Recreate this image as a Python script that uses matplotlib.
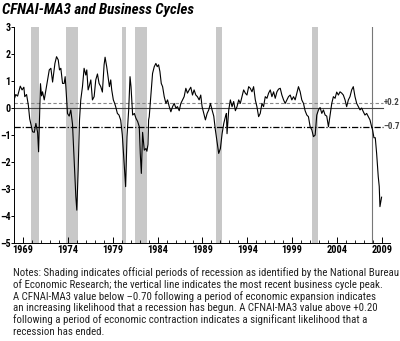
import matplotlib
matplotlib.use("Agg")
import matplotlib.pyplot as plt
from matplotlib.ticker import MultipleLocator

# CFNAI-MA3 (decimal year, index value)
years = [1968.0, 1968.2, 1968.4, 1968.7, 1968.9, 1969.1, 1969.2, 1969.4, 1969.5, 1969.6,
         1969.75, 1970.07, 1970.26, 1970.44, 1970.63, 1970.74, 1970.85, 1970.95, 1971.07, 1971.18,
         1971.37, 1971.56, 1971.74, 1971.93, 1972.11, 1972.3, 1972.41, 1972.56, 1972.74, 1972.93,
         1973.07, 1973.22, 1973.41, 1973.59, 1973.7, 1973.78, 1973.96, 1974.15, 1974.33, 1974.52,
         1974.7, 1974.89, 1975.0, 1975.15, 1975.3, 1975.44, 1975.63, 1975.81, 1976.0, 1976.11,
         1976.26, 1976.37, 1976.56, 1976.74, 1976.93, 1977.11, 1977.3, 1977.48, 1977.67, 1977.85,
         1978.04, 1978.15, 1978.33, 1978.48, 1978.63, 1978.78, 1978.89, 1979.07, 1979.22, 1979.33,
         1979.52, 1979.7, 1979.89, 1980.07, 1980.25, 1980.44, 1980.59, 1980.78, 1980.93, 1981.04,
         1981.22, 1981.41, 1981.59, 1981.78, 1981.96, 1982.07, 1982.19, 1982.33, 1982.52, 1982.7,
         1982.81, 1982.93, 1983.0, 1983.07, 1983.26, 1983.44, 1983.63, 1983.81, 1983.96, 1984.11,
         1984.26, 1984.41, 1984.56, 1984.74, 1984.93, 1985.11, 1985.3, 1985.48, 1985.67, 1985.85,
         1986.04, 1986.22, 1986.41, 1986.59, 1986.78, 1986.96, 1987.15, 1987.33, 1987.52, 1987.7,
         1987.89, 1988.07, 1988.26, 1988.44, 1988.63, 1988.81, 1988.96, 1989.15, 1989.33, 1989.52,
         1989.7, 1989.89, 1990.07, 1990.26, 1990.44, 1990.7, 1990.81, 1991.0, 1991.19, 1991.37,
         1991.56, 1991.67, 1991.74, 1991.93, 1992.11, 1992.3, 1992.48, 1992.67, 1992.85, 1993.04,
         1993.22, 1993.41, 1993.59, 1993.78, 1993.96, 1994.15, 1994.33, 1994.52, 1994.7, 1994.89,
         1995.07, 1995.26, 1995.44, 1995.63, 1995.81, 1996.0, 1996.19, 1996.37, 1996.56, 1996.74,
         1996.93, 1997.11, 1997.3, 1997.48, 1997.67, 1997.85, 1998.04, 1998.22, 1998.41, 1998.59,
         1998.78, 1998.96, 1999.15, 1999.33, 1999.52, 1999.7, 1999.89, 2000.07, 2000.26, 2000.44,
         2000.63, 2000.81, 2000.93, 2001.0, 2001.19, 2001.37, 2001.56, 2001.67, 2001.74, 2001.93,
         2002.11, 2002.3, 2002.48, 2002.67, 2002.85, 2003.04, 2003.22, 2003.41, 2003.59, 2003.78,
         2003.96, 2004.15, 2004.33, 2004.52, 2004.7, 2004.89, 2005.07, 2005.26, 2005.44, 2005.63,
         2005.81, 2006.0, 2006.19, 2006.37, 2006.56, 2006.74, 2006.93, 2007.11, 2007.3, 2007.48,
         2007.67, 2007.85, 2007.96, 2008.11, 2008.26, 2008.41, 2008.59, 2008.7, 2008.78, 2008.96]
cfnai_ma3 = [0.30, 0.50, 0.44, 0.81, 0.67, 0.77, 0.42, 0.50, 0.30, 0.10,
             -0.40, -0.88, -0.90, -0.57, -0.90, -1.62, -0.30, 0.90, 0.45, 0.60,
             0.30, 0.67, 1.04, 1.41, 1.47, 0.96, 1.26, 1.65, 1.90, 1.78,
             1.41, 1.47, 0.91, 0.91, 1.16, 0.79, -0.20, -0.30, -0.07, -0.60,
             -1.93, -3.28, -3.78, -2.30, -0.44, 0.30, 0.79, 1.47, 1.22, 1.41,
             0.67, 0.79, 1.04, 0.30, 0.42, 1.04, 1.26, 0.91, 0.79, 0.59,
             1.60, 1.88, 1.53, 1.16, 0.79, 1.04, 0.67, 0.30, 0.17, 0.05,
             -0.20, -0.26, -0.45, -1.00, -1.90, -2.91, -1.06, -0.07, 1.16, 0.79,
             -0.26, -0.20, -0.38, -0.50, -0.69, -1.68, -2.42, -0.90, -1.56, -1.50,
             -1.60, -1.35, -0.44, -0.32, 0.50, 1.28, 1.53, 1.65, 1.53, 1.60,
             1.35, 0.91, 0.79, 0.42, 0.17, 0.30, 0.05, -0.14, 0.05, 0.17,
             0.00, 0.05, -0.10, 0.17, 0.30, 0.42, 0.73, 0.55, 0.67, 0.77,
             0.48, 0.67, 0.48, 0.42, 0.30, 0.48, 0.05, -0.20, -0.44, -0.20,
             -0.07, 0.17, -0.07, -0.30, -0.81, -1.43, -1.68, -1.50, -0.95, -0.58,
             -0.32, -0.20, -0.95, -0.07, 0.30, 0.05, 0.24, -0.10, 0.05, 0.30,
             0.17, 0.42, 0.67, 0.55, 0.48, 0.79, 0.73, 0.60, 0.79, 0.30,
             0.05, -0.32, -0.20, 0.17, 0.05, 0.42, 0.36, 0.55, 0.67, 0.42,
             0.60, 0.36, 0.60, 0.70, 0.73, 0.48, 0.30, 0.17, 0.30, 0.42,
             0.48, 0.30, 0.42, 0.30, 0.55, 0.79, 0.60, 0.30, 0.17, -0.10,
             -0.26, -0.32, -0.55, -0.69, -0.81, -1.06, -1.00, -0.57, -0.26, -0.07,
             0.02, -0.20, -0.07, -0.26, -0.30, -0.69, -0.26, 0.17, 0.42, 0.36,
             0.59, 0.48, 0.60, 0.55, 0.48, 0.30, 0.05, 0.30, 0.42, 0.67,
             0.79, 0.42, 0.17, 0.05, -0.07, 0.00, -0.14, -0.26, -0.20, -0.32,
             -0.44, -0.69, -0.81, -1.10, -1.10, -1.68, -2.54, -2.90, -3.65, -3.30]

# NBER recessions
rec_start = [1969.92, 1973.83, 1980.0, 1981.5, 1990.5, 2001.17]
rec_end = [1970.83, 1975.17, 1980.5, 1982.83, 1991.17, 2001.83]
peak_2007 = 2007.92

year_ticks = [1969, 1974, 1979, 1984, 1989, 1994, 1999, 2004, 2009]
y_ticks = [3, 2, 1, 0, -1, -2, -3, -4, -5]

narrow = ["Roboto Condensed", "DejaVu Sans"]

fig = plt.figure(figsize=(4.0, 3.41), dpi=100)
ax = fig.add_axes([0.035, 0.287, 0.94, 0.634])

for s, e in zip(rec_start, rec_end):
    ax.axvspan(s, e, color="#c8c8c8", lw=0)

ax.axvline(peak_2007, color="#777777", lw=0.8)
ax.plot([1968, 2009.1], [0, 0], color="#444444", lw=0.8)
ax.plot([1968, 2009.1], [0.2, 0.2], color="#888888", lw=0.8, ls=(0, (3, 2)))
ax.plot([1968, 2009.1], [-0.7, -0.7], color="black", lw=0.9, ls=(0, (5, 1.5, 1, 1.5)))
ax.plot(years, cfnai_ma3, color="black", lw=0.8)

ax.text(2009.15, 0.2, "+0.2", fontsize=6.5, fontweight="bold", color="#444444",
        va="center", ha="left", family=narrow)
ax.text(2009.15, -0.7, "\u20130.7", fontsize=6.5, fontweight="bold", color="#444444",
        va="center", ha="left", family=narrow)

ax.set_xlim(1968, 2009.9)
ax.set_ylim(-5, 3)
ax.set_xticks(year_ticks)
ax.set_xticklabels([str(y) for y in year_ticks], family=narrow, fontsize=7.5, fontweight="bold")
ax.xaxis.set_minor_locator(MultipleLocator(1))
ax.set_yticks(y_ticks)
ax.set_yticklabels([str(v).replace("-", "\u2013") for v in y_ticks], family=narrow,
                   fontsize=7.2, fontweight="bold")
ax.tick_params(axis="x", which="major", direction="in", length=4, width=0.7, pad=1)
ax.tick_params(axis="x", which="minor", direction="in", length=2, width=0.6)
ax.tick_params(axis="y", direction="out", length=2, width=0.7, pad=0.5)

for side in ["top", "right"]:
    ax.spines[side].set_visible(False)
ax.spines["left"].set_linewidth(0.7)
ax.spines["bottom"].set_linewidth(0.7)

fig.text(0.004, 0.99, "CFNAI-MA3 and Business Cycles", fontsize=10.8, fontweight="bold",
         style="italic", family=narrow, va="top", ha="left")

notes = ("Notes: Shading indicates official periods of recession as identified by the National Bureau\n"
         "of Economic Research; the vertical line indicates the most recent business cycle peak.\n"
         "A CFNAI-MA3 value below \u20130.70 following a period of economic expansion indicates\n"
         "an increasing likelihood that a recession has begun. A CFNAI-MA3 value above +0.20\n"
         "following a period of economic contraction indicates a significant likelihood that a\n"
         "recession has ended.")
fig.text(0.032, 0.218, notes, fontsize=7.8, family=narrow, va="top", ha="left",
         linespacing=1.15, color="#222222")

fig.savefig("out.png", dpi=100)
